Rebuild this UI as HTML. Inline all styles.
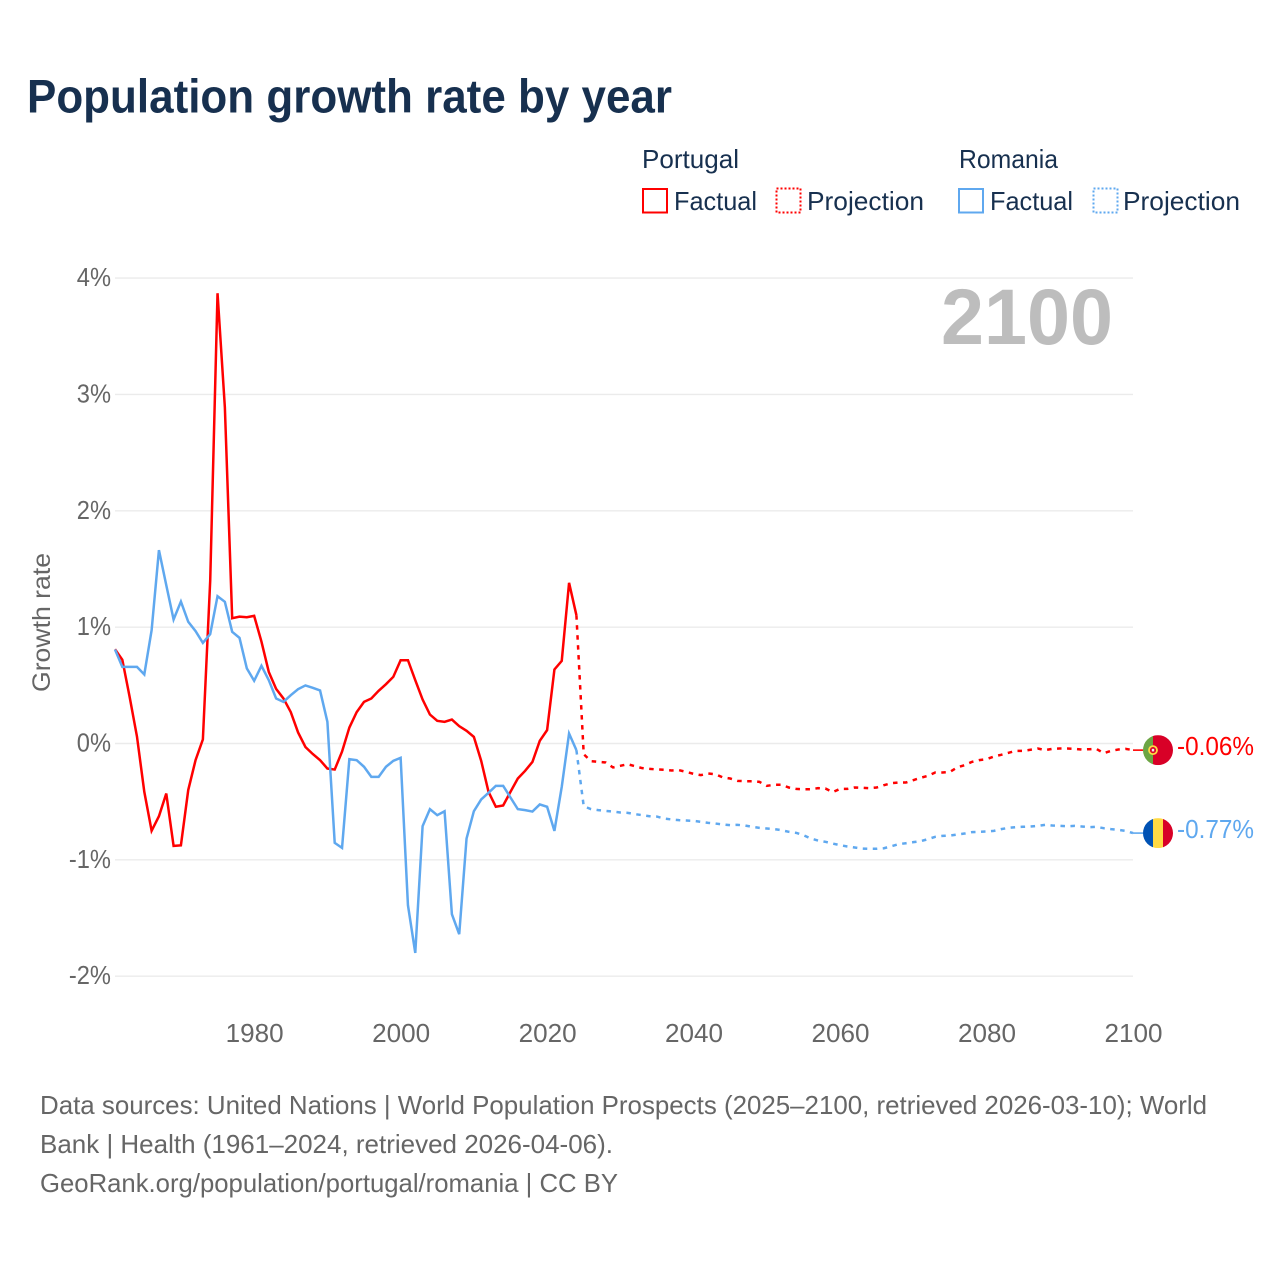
<!DOCTYPE html>
<html lang="en">
<head>
<meta charset="utf-8">
<title>Population growth rate by year</title>
<style>
html,body{margin:0;padding:0;background:#fff;width:1280px;height:1280px;overflow:hidden}
svg{display:block}
text{font-family:"Liberation Sans",sans-serif}
</style>
</head>
<body>
<svg id="chart" xmlns="http://www.w3.org/2000/svg" width="1280" height="1280" viewBox="0 0 1280 1280">
  <defs>
    <clipPath id="clip-flag-pt"><circle id="clip-pt" cx="1158" cy="750" r="15"/></clipPath>
    <clipPath id="clip-flag-ro"><circle id="clip-ro" cx="1158" cy="833" r="15"/></clipPath>
  </defs>
  <rect x="0" y="0" width="1280" height="1280" fill="#ffffff"/>
  <text x="27" y="112.5" font-size="47" font-weight="700" fill="#17304f" textLength="645" lengthAdjust="spacingAndGlyphs">Population growth rate by year</text>

  <g fill="#17304f" font-size="26">
    <text x="642" y="168" textLength="97" lengthAdjust="spacingAndGlyphs">Portugal</text>
    <text x="959" y="168" textLength="99" lengthAdjust="spacingAndGlyphs">Romania</text>
    <rect x="643" y="189" width="24" height="23.5" fill="none" stroke="#ff0000" stroke-width="2"/>
    <text x="674" y="210" textLength="83" lengthAdjust="spacingAndGlyphs">Factual</text>
    <rect x="776.5" y="188.5" width="24" height="24" fill="none" stroke="#ff0000" stroke-width="2" stroke-dasharray="2 2"/>
    <text x="807" y="210" textLength="117" lengthAdjust="spacingAndGlyphs">Projection</text>
    <rect x="959" y="189" width="24" height="23.5" fill="none" stroke="#5fa8ef" stroke-width="2"/>
    <text x="990" y="210" textLength="83" lengthAdjust="spacingAndGlyphs">Factual</text>
    <rect x="1093.5" y="188.5" width="24" height="24" fill="none" stroke="#5fa8ef" stroke-width="2" stroke-dasharray="2 2"/>
    <text x="1123" y="210" textLength="117" lengthAdjust="spacingAndGlyphs">Projection</text>
  </g>

  <g id="grid"></g>
  <g id="y-ticks"></g>
  <g id="x-ticks"></g>
  <text transform="translate(50,692) rotate(-90)" font-size="25" fill="#666666" textLength="139" lengthAdjust="spacingAndGlyphs">Growth rate</text>
  <text x="941" y="344" font-size="79" font-weight="700" fill="#bdbdbd" textLength="172" lengthAdjust="spacingAndGlyphs">2100</text>

  <g id="series"></g>

  <g clip-path="url(#clip-flag-pt)">
    <rect id="pt-a" x="1143" y="735" width="10" height="30" fill="#6da544"/>
    <rect id="pt-b" x="1153" y="735" width="20" height="30" fill="#d80027"/>
    <circle id="pt-c" cx="1153" cy="750" r="4" fill="#d80027" stroke="#ffda44" stroke-width="1.8"/>
    <rect id="pt-d" x="1151.8" y="748.8" width="2.4" height="2.6" fill="#f0f0f0"/>
  </g>
  <g clip-path="url(#clip-flag-ro)">
    <rect id="ro-a" x="1143" y="818" width="10" height="30" fill="#0052b4"/>
    <rect id="ro-b" x="1153" y="818" width="10" height="30" fill="#ffda44"/>
    <rect id="ro-c" x="1163" y="818" width="10" height="30" fill="#d80027"/>
  </g>
  <text id="end-pt" x="1177" y="755" font-size="26" fill="#ff0000" textLength="77" lengthAdjust="spacingAndGlyphs">-0.06%</text>
  <text id="end-ro" x="1177" y="838" font-size="26" fill="#5fa8ef" textLength="77" lengthAdjust="spacingAndGlyphs">-0.77%</text>

  <g font-size="26" fill="#666666">
    <text x="40" y="1114" textLength="1167" lengthAdjust="spacingAndGlyphs">Data sources: United Nations | World Population Prospects (2025–2100, retrieved 2026-03-10); World</text>
    <text x="40" y="1153" textLength="573" lengthAdjust="spacingAndGlyphs">Bank | Health (1961–2024, retrieved 2026-04-06).</text>
    <text x="40" y="1192" textLength="578" lengthAdjust="spacingAndGlyphs">GeoRank.org/population/portugal/romania | CC BY</text>
  </g>
</svg>
<script>
const yTickValues = [4, 3, 2, 1, 0, -1, -2];
const yTickLabels = ["4%", "3%", "2%", "1%", "0%", "-1%", "-2%"];
const xTickYears = [1980, 2000, 2020, 2040, 2060, 2080, 2100];
const firstFactualYear = 1961;
const firstProjectionYear = 2025;
const portugalFactual = [0.81,0.72,0.40,0.06,-0.415,-0.75,-0.625,-0.43,-0.88,-0.875,-0.40,-0.143,0.035,1.40,3.87,2.89,1.077,1.09,1.085,1.097,0.875,0.615,0.47,0.387,0.27,0.095,-0.03,-0.09,-0.143,-0.215,-0.224,-0.07,0.137,0.27,0.358,0.387,0.453,0.51,0.573,0.716,0.716,0.544,0.378,0.249,0.195,0.186,0.206,0.149,0.109,0.057,-0.149,-0.415,-0.544,-0.533,-0.415,-0.301,-0.235,-0.158,0.023,0.115,0.636,0.71,1.381,1.103];
const romaniaFactual = [0.808,0.659,0.659,0.659,0.593,0.974,1.662,1.361,1.066,1.22,1.046,0.966,0.865,0.94,1.266,1.218,0.96,0.908,0.645,0.539,0.668,0.544,0.387,0.358,0.415,0.467,0.499,0.479,0.456,0.186,-0.854,-0.897,-0.135,-0.143,-0.2,-0.287,-0.287,-0.2,-0.149,-0.123,-1.39,-1.8,-0.71,-0.564,-0.616,-0.582,-1.467,-1.639,-0.817,-0.582,-0.481,-0.424,-0.364,-0.364,-0.464,-0.564,-0.573,-0.585,-0.524,-0.544,-0.751,-0.372,0.086,-0.057];
const portugalProjection = [-0.092,-0.152,-0.158,-0.163,-0.206,-0.192,-0.178,-0.195,-0.212,-0.218,-0.223,-0.226,-0.232,-0.229,-0.244,-0.261,-0.272,-0.258,-0.264,-0.292,-0.301,-0.321,-0.324,-0.324,-0.33,-0.364,-0.355,-0.355,-0.378,-0.39,-0.393,-0.393,-0.384,-0.387,-0.418,-0.39,-0.39,-0.378,-0.381,-0.384,-0.378,-0.358,-0.341,-0.335,-0.335,-0.315,-0.295,-0.278,-0.249,-0.249,-0.244,-0.206,-0.186,-0.158,-0.143,-0.135,-0.112,-0.097,-0.08,-0.063,-0.063,-0.054,-0.043,-0.057,-0.046,-0.043,-0.043,-0.046,-0.052,-0.049,-0.046,-0.083,-0.063,-0.052,-0.046,-0.057];
const romaniaProjection = [-0.539,-0.564,-0.573,-0.579,-0.585,-0.593,-0.596,-0.607,-0.616,-0.625,-0.628,-0.645,-0.653,-0.659,-0.662,-0.665,-0.673,-0.682,-0.688,-0.696,-0.702,-0.699,-0.705,-0.716,-0.725,-0.731,-0.736,-0.745,-0.759,-0.768,-0.788,-0.817,-0.834,-0.845,-0.86,-0.874,-0.885,-0.894,-0.903,-0.905,-0.905,-0.9,-0.883,-0.865,-0.857,-0.848,-0.84,-0.822,-0.802,-0.794,-0.791,-0.782,-0.774,-0.762,-0.759,-0.756,-0.751,-0.736,-0.725,-0.719,-0.716,-0.713,-0.708,-0.699,-0.705,-0.708,-0.711,-0.708,-0.713,-0.719,-0.716,-0.728,-0.736,-0.742,-0.751,-0.77];

const SVG_NS = "http://www.w3.org/2000/svg";
const RED = "#ff0000";
const BLUE = "#5fa8ef";
const LINE_WIDTH = "2.5";
const DASH = "4.5 5.5";

function xScale(year) { return 115 + (year - 1961) * (1133 - 115) / (2100 - 1961); }
function yScale(value) { return 743.5 - value * 116.35; }
function make(tag) { return document.createElementNS(SVG_NS, tag); }

const gridGroup = document.getElementById("grid");
const yTickGroup = document.getElementById("y-ticks");
yTickValues.forEach(function (v, i) {
  const line = make("line");
  
  
  line.setAttribute("x1", 115);
  line.setAttribute("x2", 1133);
  line.setAttribute("y1", yScale(v));
  line.setAttribute("y2", yScale(v));
  line.setAttribute("stroke", "#ebebeb");
  line.setAttribute("stroke-width", "1.4");
  gridGroup.appendChild(line);

  const label = make("text");
  
  
  label.setAttribute("x", 111);
  label.setAttribute("y", yScale(v) + 8);
  label.setAttribute("text-anchor", "end");
  label.setAttribute("font-size", "26");
  label.setAttribute("fill", "#666666");
  label.textContent = yTickLabels[i];
  yTickGroup.appendChild(label);
  label.setAttribute("textLength", (label.getComputedTextLength() * 0.91).toFixed(1));
  label.setAttribute("lengthAdjust", "spacingAndGlyphs");
});

const xTickGroup = document.getElementById("x-ticks");
xTickYears.forEach(function (year) {
  const label = make("text");
  
  
  label.setAttribute("x", xScale(year) + 0.5);
  label.setAttribute("y", 1042);
  label.setAttribute("text-anchor", "middle");
  label.setAttribute("font-size", "26");
  label.setAttribute("fill", "#666666");
  label.setAttribute("textLength", "58");
  label.setAttribute("lengthAdjust", "spacingAndGlyphs");
  label.textContent = String(year);
  xTickGroup.appendChild(label);
});

function pointString(values, startYear, prefix) {
  const pts = prefix ? prefix.slice() : [];
  values.forEach(function (v, i) {
    pts.push(xScale(startYear + i).toFixed(2) + "," + yScale(v).toFixed(2));
  });
  return pts;
}

const seriesGroup = document.getElementById("series");

function lastPoint(values, startYear) {
  const idx = values.length - 1;
  return xScale(startYear + idx).toFixed(2) + "," + yScale(values[idx]).toFixed(2);
}

const ptProjection = make("polyline");


ptProjection.setAttribute("points", pointString(portugalProjection, firstProjectionYear, [lastPoint(portugalFactual, firstFactualYear)]).join(" "));
ptProjection.setAttribute("fill", "none");
ptProjection.setAttribute("stroke", RED);
ptProjection.setAttribute("stroke-width", LINE_WIDTH);
ptProjection.setAttribute("stroke-dasharray", DASH);
seriesGroup.appendChild(ptProjection);

const roProjection = make("polyline");


roProjection.setAttribute("points", pointString(romaniaProjection, firstProjectionYear, [lastPoint(romaniaFactual, firstFactualYear)]).join(" "));
roProjection.setAttribute("fill", "none");
roProjection.setAttribute("stroke", BLUE);
roProjection.setAttribute("stroke-width", LINE_WIDTH);
roProjection.setAttribute("stroke-dasharray", DASH);
seriesGroup.appendChild(roProjection);

const ptFactual = make("polyline");


ptFactual.setAttribute("points", pointString(portugalFactual, firstFactualYear).join(" "));
ptFactual.setAttribute("fill", "none");
ptFactual.setAttribute("stroke", RED);
ptFactual.setAttribute("stroke-width", LINE_WIDTH);
seriesGroup.appendChild(ptFactual);

const roFactual = make("polyline");


roFactual.setAttribute("points", pointString(romaniaFactual, firstFactualYear).join(" "));
roFactual.setAttribute("fill", "none");
roFactual.setAttribute("stroke", BLUE);
roFactual.setAttribute("stroke-width", LINE_WIDTH);
seriesGroup.appendChild(roFactual);

const ptEndY = yScale(portugalProjection[portugalProjection.length - 1]);
const roEndY = yScale(romaniaProjection[romaniaProjection.length - 1]);

const ptLeader = make("line");


ptLeader.setAttribute("x1", 1133);
ptLeader.setAttribute("x2", 1143);
ptLeader.setAttribute("y1", ptEndY);
ptLeader.setAttribute("y2", ptEndY);
ptLeader.setAttribute("stroke", RED);
ptLeader.setAttribute("stroke-width", "1.6");
seriesGroup.appendChild(ptLeader);

const roLeader = make("line");


roLeader.setAttribute("x1", 1133);
roLeader.setAttribute("x2", 1143);
roLeader.setAttribute("y1", roEndY);
roLeader.setAttribute("y2", roEndY);
roLeader.setAttribute("stroke", BLUE);
roLeader.setAttribute("stroke-width", "1.6");
seriesGroup.appendChild(roLeader);

document.getElementById("clip-pt").setAttribute("cy", ptEndY);
document.getElementById("clip-ro").setAttribute("cy", roEndY);
["pt-a", "pt-b"].forEach(function (id) {
  document.getElementById(id).setAttribute("y", ptEndY - 15);
});
document.getElementById("pt-c").setAttribute("cy", ptEndY);
document.getElementById("pt-d").setAttribute("y", ptEndY - 1.3);
["ro-a", "ro-b", "ro-c"].forEach(function (id) {
  document.getElementById(id).setAttribute("y", roEndY - 15);
});
document.getElementById("end-pt").setAttribute("y", ptEndY + 5);
document.getElementById("end-ro").setAttribute("y", roEndY + 5);
</script>
</body>
</html>
